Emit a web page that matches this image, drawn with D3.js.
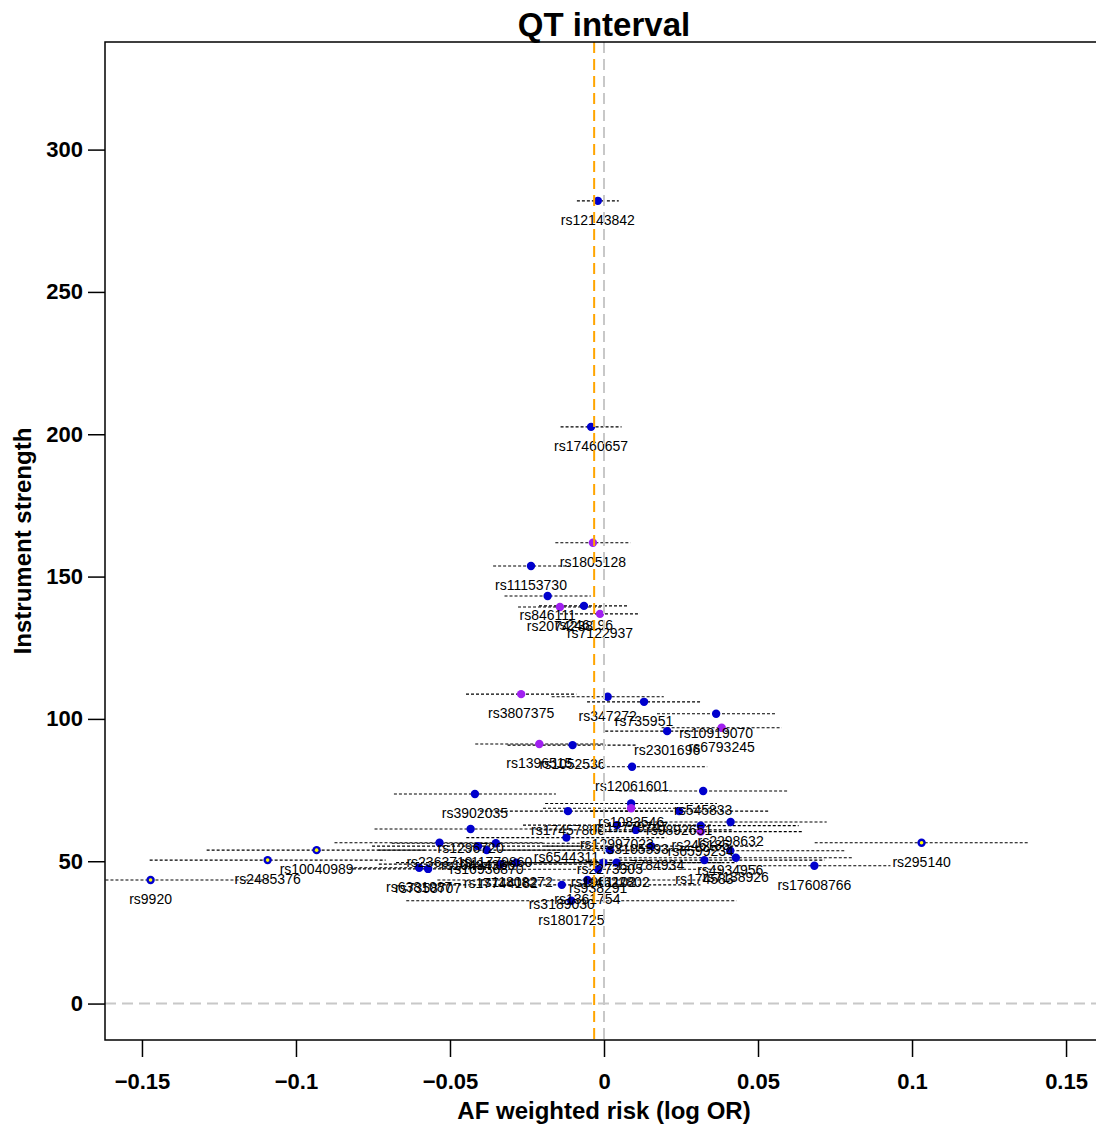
<!DOCTYPE html>
<html>
<head>
<meta charset="utf-8">
<script src="https://cdn.jsdelivr.net/npm/d3@7"></script>
<style>
  body { margin: 0; background: #fff; }
  svg { display: block; font-family: 'Liberation Sans', Arial, sans-serif; }
</style>
</head>
<body>
<svg id="chart"></svg>
<script>
// SNP instruments
const snps = [
  'rs12143842', 'rs17460657', 'rs1805128', 'rs11153730', 'rs846111', 'rs2074238',
  'rs246196', 'rs7122937', 'rs3807375', 'rs347272', 'rs735951', 'rs10919070',
  'rs6793245', 'rs2301696', 'rs1396515', 'rs1052536', 'rs12061601', 'rs3902035',
  'rs545833', 'rs1083546', 'rs17779747', 'rs17457880', 'rs9892651', 'rs1296720',
  'rs12997023', 'rs3105593', 'rs246185', 'rs6599234', 'rs2298632', 'rs6544311',
  'rs2363719', 'rs10494366', 'rs11779860', 'rs16936870', 'rs7784934', 'rs2273905',
  'rs4934956', 'rs295140', 'rs10040989', 'rs2485376', 'rs174583', 'rs7138926',
  'rs1961102', 'rs4622802', 'rs17744182', 'rs11808272', 'rs17608766', 'rs6381087',
  'rs7358707', 'rs938291', 'rs9920', 'rs1361754', 'rs3189030', 'rs1801725'
];
const risk = [
  -0.0020, -0.0042, -0.0036, -0.0237, -0.0183, -0.0143,
  -0.0065, -0.0013, -0.0269, 0.0012, 0.0130, 0.0364,
  0.0382, 0.0205, -0.0210, -0.0102, 0.0091, -0.0419,
  0.0322, 0.0088, 0.0088, -0.0117, 0.0244, -0.0433,
  0.0042, 0.0103, 0.0314, 0.0314, 0.0411, -0.0122,
  -0.0534, -0.0409, -0.0351, -0.0381, 0.0153, 0.0019,
  0.0410, 0.1031, -0.0933, -0.1092, 0.0326, 0.0428,
  -0.0002, 0.0041, -0.0335, -0.0285, 0.0683, -0.0600,
  -0.0571, -0.0019, -0.1472, -0.0054, -0.0137, -0.0106
];
const strength = [
  282.0, 202.6, 161.9, 153.7, 143.2, 139.3,
  139.7, 136.9, 108.7, 107.8, 106.0, 101.8,
  96.9, 95.7, 91.2, 90.8, 83.2, 73.6,
  74.7, 70.3, 68.6, 67.6, 67.6, 61.3,
  62.7, 61.0, 62.5, 60.4, 63.8, 58.3,
  56.5, 55.3, 56.3, 53.9, 55.3, 53.9,
  53.7, 56.5, 53.9, 50.4, 50.4, 51.2,
  49.5, 49.5, 49.0, 49.5, 48.4, 47.7,
  47.3, 47.2, 43.4, 43.4, 41.7, 36.1
];
// half width of the confidence interval
const ciHalf = [
  0.0068, 0.0099, 0.0122, 0.0123, 0.0140, 0.0136,
  0.0146, 0.0130, 0.0179, 0.0182, 0.0185, 0.0192,
  0.0195, 0.0201, 0.0208, 0.0211, 0.0244, 0.0263,
  0.0273, 0.0279, 0.0286, 0.0286, 0.0289, 0.0312,
  0.0305, 0.0315, 0.0318, 0.0331, 0.0312, 0.0325,
  0.0341, 0.0344, 0.0338, 0.0351, 0.0344, 0.0351,
  0.0370, 0.0347, 0.0357, 0.0383, 0.0390, 0.0380,
  0.0390, 0.0390, 0.0396, 0.0390, 0.0247, 0.0227,
  0.0244, 0.0406, 0.0390, 0.0487, 0.0450, 0.0536
];
// b = blue, p = purple, o = outlier (blue ring, yellow centre)
const group = [
  'b', 'b', 'p', 'b', 'b', 'p',
  'b', 'p', 'p', 'b', 'b', 'b',
  'p', 'b', 'p', 'b', 'b', 'b',
  'b', 'b', 'p', 'b', 'b', 'b',
  'b', 'b', 'b', 'p', 'b', 'b',
  'b', 'b', 'b', 'b', 'b', 'b',
  'b', 'o', 'o', 'o', 'b', 'b',
  'b', 'b', 'b', 'b', 'b', 'b',
  'b', 'b', 'o', 'b', 'b', 'b'
];
const xTicks = [-0.15, -0.1, -0.05, 0, 0.05, 0.1, 0.15];
const xTickLabels = ['\u22120.15', '\u22120.1', '\u22120.05', '0', '0.05', '0.1', '0.15'];
const yTicks = [0, 50, 100, 150, 200, 250, 300];
const weightedEstimate = -0.0032;

const width = 1096;
const height = 1126;
const plot = { left: 105, top: 42, right: 1103, bottom: 1040 };

const x = d3.scaleLinear()
  .domain([-0.162, 0.162])
  .range([plot.left, plot.right]);
const y = d3.scaleLinear()
  .domain([-12.8, 337.8])
  .range([plot.bottom, plot.top]);

const data = snps.map((name, i) => ({
  name,
  x: risk[i],
  y: strength[i],
  ci: ciHalf[i],
  group: group[i]
}));

const svg = d3.select('#chart')
  .attr('width', width)
  .attr('height', height);

svg.append('clipPath')
  .attr('id', 'clip')
  .append('rect')
  .attr('x', plot.left)
  .attr('y', plot.top)
  .attr('width', plot.right - plot.left)
  .attr('height', plot.bottom - plot.top);

const g = svg.append('g')
  .attr('clip-path', 'url(#clip)');

// confidence intervals
g.append('g')
  .attr('stroke', '#000')
  .attr('stroke-width', 1.1)
  .attr('stroke-dasharray', '3,2')
  .selectAll('line')
  .data(data)
  .enter()
  .append('line')
  .attr('x1', d => x(d.x - d.ci))
  .attr('x2', d => x(d.x + d.ci))
  .attr('y1', d => y(d.y))
  .attr('y2', d => y(d.y));

const colour = { b: '#0000cd', p: '#a020f0', o: '#0000cd' };

g.append('g')
  .selectAll('circle')
  .data(data)
  .enter()
  .append('circle')
  .attr('cx', d => x(d.x))
  .attr('cy', d => y(d.y))
  .attr('r', 4.2)
  .attr('fill', d => colour[d.group]);

g.append('g')
  .selectAll('circle')
  .data(data.filter(d => d.group === 'o'))
  .enter()
  .append('circle')
  .attr('cx', d => x(d.x))
  .attr('cy', d => y(d.y))
  .attr('r', 1.8)
  .attr('fill', '#ffff00');

g.append('g')
  .attr('font-size', 14)
  .attr('text-anchor', 'middle')
  .attr('fill', '#000')
  .selectAll('text')
  .data(data)
  .enter()
  .append('text')
  .attr('x', d => x(d.x))
  .attr('y', d => y(d.y) + 24)
  .text(d => d.name);

// reference lines
g.append('line')
  .attr('x1', plot.left)
  .attr('x2', plot.right)
  .attr('y1', y(0))
  .attr('y2', y(0))
  .attr('stroke', '#c8c8c8')
  .attr('stroke-width', 2)
  .attr('stroke-dasharray', '11,6');

g.append('line')
  .attr('x1', x(0))
  .attr('x2', x(0))
  .attr('y1', plot.top)
  .attr('y2', plot.bottom)
  .attr('stroke', '#c8c8c8')
  .attr('stroke-width', 2)
  .attr('stroke-dasharray', '11,6');

g.append('line')
  .attr('x1', x(weightedEstimate))
  .attr('x2', x(weightedEstimate))
  .attr('y1', plot.top)
  .attr('y2', plot.bottom)
  .attr('stroke', '#ffa500')
  .attr('stroke-width', 2)
  .attr('stroke-dasharray', '11,6');

// frame
svg.append('rect')
  .attr('x', plot.left)
  .attr('y', plot.top)
  .attr('width', plot.right - plot.left)
  .attr('height', plot.bottom - plot.top)
  .attr('fill', 'none')
  .attr('stroke', '#000')
  .attr('stroke-width', 1.5);

const xAxis = d3.axisBottom(x)
  .tickValues(xTicks)
  .tickFormat((d, i) => xTickLabels[i])
  .tickSize(17)
  .tickPadding(16);

svg.append('g')
  .attr('transform', `translate(0,${plot.bottom})`)
  .call(xAxis)
  .call(a => a.select('.domain').remove())
  .call(a => a.selectAll('line').attr('stroke-width', 1.5))
  .call(a => a.selectAll('text')
    .attr('font-size', 22)
    .attr('font-weight', 'bold')
    .attr('fill', '#000')
    .attr('font-family', null));

const yAxis = d3.axisLeft(y)
  .tickValues(yTicks)
  .tickSize(17)
  .tickPadding(5);

svg.append('g')
  .attr('transform', `translate(${plot.left},0)`)
  .call(yAxis)
  .call(a => a.select('.domain').remove())
  .call(a => a.selectAll('line').attr('stroke-width', 1.5))
  .call(a => a.selectAll('text')
    .attr('font-size', 22)
    .attr('font-weight', 'bold')
    .attr('fill', '#000')
    .attr('font-family', null));

svg.append('text')
  .attr('x', (plot.left + plot.right) / 2)
  .attr('y', 36)
  .attr('text-anchor', 'middle')
  .attr('font-size', 33)
  .attr('font-weight', 'bold')
  .text('QT interval');

svg.append('text')
  .attr('x', (plot.left + plot.right) / 2)
  .attr('y', 1119)
  .attr('text-anchor', 'middle')
  .attr('font-size', 24)
  .attr('font-weight', 'bold')
  .text('AF weighted risk (log OR)');

svg.append('text')
  .attr('transform', `translate(31,${(plot.top + plot.bottom) / 2}) rotate(-90)`)
  .attr('text-anchor', 'middle')
  .attr('font-size', 24)
  .attr('font-weight', 'bold')
  .text('Instrument strength');
</script>
</body>
</html>
